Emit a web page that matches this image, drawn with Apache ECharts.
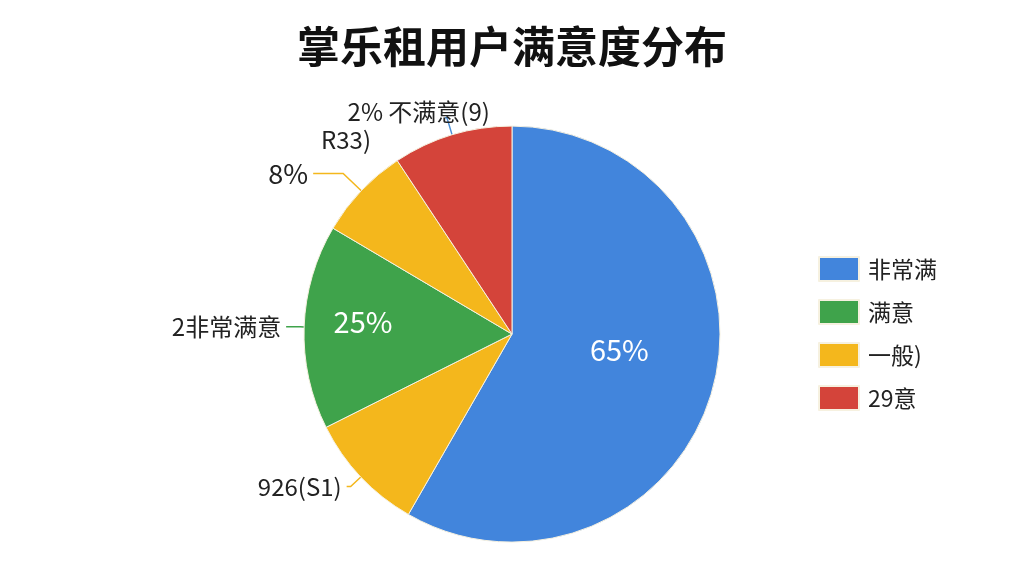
<!DOCTYPE html>
<html>
<head>
    <meta http-equiv=Content-Type content="text/html; charset=utf-8">
    <title>掌乐租用户满意度分布</title>
    <script type="text/javascript" src="https://cdn.jsdelivr.net/npm/echarts@6/dist/echarts.min.js"></script>
    <style>
        html, body {margin: 0; padding: 0; background: #fff;}
        #chartmain {width: 1024px; height: 576px;}
    </style>
</head>
<body>
<div id="chartmain"></div>

<script type="text/javascript">
    // 扇区名称（按顺时针，从12点方向开始）
    var names = ['非常满', '一般)', '满意', '一般', '29意'];
    // 扇区占比
    var values = [58.3, 9.3, 15.9, 7.2, 9.3];
    var colors = ['#4285dc', '#f4b71c', '#3fa34b', '#f4b71c', '#d4443a'];
    // 扇区内的文字
    var innerLabels = ['65%', '', '25%', '', ''];
    // 扇区外的文字
    var outerLabels = ['', '926(S1)', '2非常满意', '8%', '2% 不满意(9)'];
    var legendNames = ['非常满', '满意', '一般)', '29意'];

    var lineColors = ['#4285dc', '#f4b71c', '#3fa34b', '#f4b71c', '#4a8fd6'];
    var lineLen = [10, 14, 4, 25, 18];
    var lineLen2 = [8, 4, 14, 30, 2];
    var innerOffset = [[4, -12], null, [-42, -8], null, null];
    var outerOffset = [null, null, null, null, [50, -6]];

    var font = '"Noto Sans CJK SC", "Noto Sans", sans-serif';

    var myChart = echarts.init(document.getElementById('chartmain'));

    var innerData = [];
    var outerData = [];
    for (var i = 0; i < names.length; i++) {
        var lab = {show: innerLabels[i] != '', formatter: innerLabels[i]};
        if (innerOffset[i]) {
            lab.offset = innerOffset[i];
        }
        innerData.push({
            name: names[i],
            value: values[i],
            itemStyle: {color: colors[i]},
            label: lab
        });
        var lab2 = {
            show: outerLabels[i] != '',
            formatter: outerLabels[i],
            fontSize: outerLabels[i] == '8%' ? 27 : 24
        };
        if (outerOffset[i]) {
            lab2.offset = outerOffset[i];
        }
        outerData.push({
            name: names[i],
            value: values[i],
            label: lab2,
            labelLine: {
                show: outerLabels[i] != '',
                length: lineLen[i],
                length2: lineLen2[i],
                lineStyle: {color: lineColors[i], width: 1.5}
            }
        });
    }

    var option = {
        backgroundColor: '#fff',
        animation: false,
        color: colors,
        title: {
            text: '掌乐租用户满意度分布',
            left: 'center',
            top: 20,
            textStyle: {
                color: '#111',
                fontSize: 43,
                fontWeight: 'bold',
                fontFamily: font
            }
        },
        legend: {
            data: legendNames,
            orient: 'vertical',
            left: 813,
            top: 251,
            itemWidth: 40,
            itemHeight: 24,
            itemGap: 17,
            icon: 'rect',
            textStyle: {fontSize: 23, color: '#222', fontFamily: font, padding: [0, 0, 0, 4]}
        },
        graphic: [
            {
                type: 'text',
                left: 321,
                top: 128,
                style: {text: 'R33)', fontSize: 24, fill: '#222', fontFamily: font}
            }
        ],
        series: [
            {
                name: '满意度',
                type: 'pie',
                center: ['50%', '58%'],
                radius: 208,
                startAngle: 90,
                clockwise: true,
                silent: true,
                itemStyle: {borderColor: '#f6f1e0', borderWidth: 1},
                label: {
                    position: 'inside',
                    color: '#fff',
                    fontSize: 29,
                    fontFamily: font
                },
                labelLine: {show: false},
                data: innerData
            },
            {
                name: '标注',
                type: 'pie',
                center: ['50%', '58%'],
                radius: 208,
                startAngle: 90,
                clockwise: true,
                silent: true,
                itemStyle: {color: 'transparent'},
                label: {
                    position: 'outside',
                    color: '#222',
                    fontSize: 24,
                    fontFamily: font
                },
                data: outerData
            }
        ]
    };
    myChart.setOption(option);
</script>
</body>
</html>
